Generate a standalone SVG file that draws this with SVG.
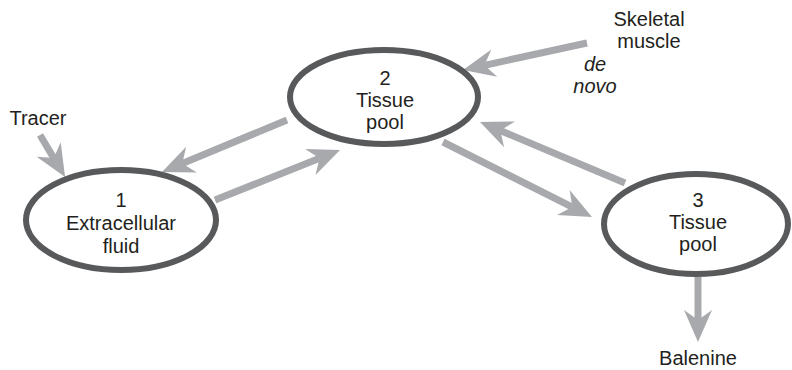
<svg xmlns="http://www.w3.org/2000/svg" width="792" height="370" viewBox="0 0 792 370">
<style>
.node{fill:#ffffff;stroke:#58595b;stroke-width:6}
.arr{stroke:#a7a9ac;stroke-width:7;fill:none;marker-end:url(#ah)}
text{font-family:"Liberation Sans",Arial,sans-serif;font-size:20px;fill:#231f20;text-anchor:middle}
.it{font-style:italic}
</style>
<defs>
<marker id="ah" markerUnits="userSpaceOnUse" viewBox="-33 -15 34 30" markerWidth="34" markerHeight="30" refX="-22" refY="0" orient="auto">
<path d="M0,0 L-32,-14 L-22,0 L-32,14 Z" fill="#a7a9ac"/>
</marker>
</defs>
<g id="connectors">
<line class="arr" x1="40" y1="135" x2="53.8" y2="158.1"/>
<line class="arr" x1="287" y1="120" x2="182.3" y2="163.5"/>
<line class="arr" x1="215" y1="200" x2="319.6" y2="158.2"/>
<line class="arr" x1="587" y1="43" x2="484.5" y2="65.3"/>
<line class="arr" x1="625" y1="183" x2="500.3" y2="130.5"/>
<line class="arr" x1="443" y1="142" x2="572.3" y2="207.1"/>
<line class="arr" x1="698" y1="277" x2="698" y2="320"/>
</g>
<g id="node1">
<ellipse class="node" cx="121" cy="220" rx="95" ry="50"/>
<text x="121" y="207">1</text>
<text x="121" y="230">Extracellular</text>
<text x="121" y="253">fluid</text>
</g>
<g id="node2">
<ellipse class="node" cx="384" cy="97" rx="94" ry="47"/>
<text x="385" y="84.5">2</text>
<text x="385" y="106.5">Tissue</text>
<text x="385" y="128.5">pool</text>
</g>
<g id="node3">
<ellipse class="node" cx="696" cy="224" rx="92" ry="50"/>
<text x="698" y="207">3</text>
<text x="698" y="229">Tissue</text>
<text x="698" y="251">pool</text>
</g>
<g id="labels">
<text x="38" y="125">Tracer</text>
<text x="649" y="26">Skeletal</text>
<text x="649" y="48">muscle</text>
<text class="it" x="595" y="71">de</text>
<text class="it" x="595" y="93">novo</text>
<text x="698" y="365">Balenine</text>
</g>
</svg>
